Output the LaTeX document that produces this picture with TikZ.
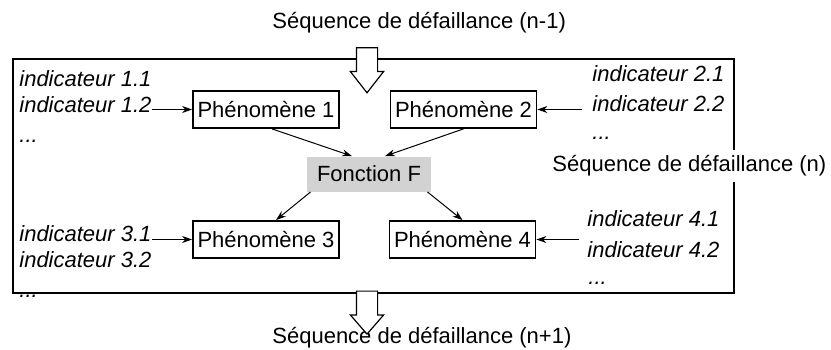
\documentclass[tikz,border=0pt]{standalone}
\usepackage{fontspec}
\setmainfont{Liberation Sans}
\usetikzlibrary{arrows.meta,positioning,shapes.arrows}
\tikzstyle{phen}=[rectangle,draw,line width=0.9pt,inner xsep=0pt,minimum width=73pt,minimum height=18.5pt,text centered]
\tikzstyle{fonction}=[rectangle,fill=gray!35,inner xsep=0pt,minimum width=62pt,minimum height=17.5pt]
\tikzstyle{indic}=[inner sep=0pt,font=\fontsize{11}{13}\selectfont\itshape]
\tikzstyle{seq}=[inner sep=0pt]
\tikzstyle{flow}=[single arrow,draw,fill=white,line width=0.6pt,shape border rotate=270,inner sep=5pt,single arrow head extend=3pt,minimum height=22.5pt,single arrow tip angle=76]
\tikzstyle{feeds}=[-{Stealth[length=5pt,width=3.5pt]},line width=0.5pt]
\begin{document}
\begin{tikzpicture}[x=0.5pt,y=-0.5pt,font=\fontsize{11}{13}\selectfont]
\useasboundingbox (0,0) rectangle (831,349);

% cadre
\draw [line width=0.8pt] (12.7,59) rectangle (734,293);

\node (sprev) [seq,anchor=west] at (272,23) {Séquence de défaillance (n-1)};
\node (scur) [seq,anchor=west,fill=white,inner ysep=3pt] at (552,166) {Séquence de défaillance (n)};
\node (snext) [seq,anchor=west] at (272,338) {Séquence de défaillance (n+1)};

\node (p1) [phen] at (266,109.5) {Phénomène 1};
\node (p2) [phen] at (463.5,109.5) {Phénomène 2};
\node (f) [fonction] at (369,174) {Fonction F};
\node (p3) [phen] at (266,239.5) {Phénomène 3};
\node (p4) [phen] at (462.5,239.5) {Phénomène 4};

\node (i11) [indic,anchor=west] at (19,79) {indicateur 1.1};
\node (i12) [indic,anchor=west] at (19,105) {indicateur 1.2};
\node (d1) [indic,anchor=base west] at (19,142) {...};
\node (i21) [indic,anchor=west] at (592,74) {indicateur 2.1};
\node (i22) [indic,anchor=west] at (592,104) {indicateur 2.2};
\node (d2) [indic,anchor=base west] at (592,139) {...};
\node (i31) [indic,anchor=west] at (19,234) {indicateur 3.1};
\node (i32) [indic,anchor=west] at (19,260) {indicateur 3.2};
\node (d3) [indic,anchor=base west] at (19,297) {...};
\node (i41) [indic,anchor=west] at (587,219) {indicateur 4.1};
\node (i42) [indic,anchor=west] at (587,250) {indicateur 4.2};
\node (d4) [indic,anchor=base west] at (588,284) {...};

\node (fin) [flow] at (367,63.5) {};
\node (fout) [flow,minimum height=21.5pt,single arrow tip angle=82] at (367,306.5) {};

\draw [feeds] (i12.east |- p1.west) -- (p1.west);
\draw [feeds,shorten <=5pt] (i22.west |- p2.east) -- (p2.east);
\draw [feeds] (i31.east |- p3.west) -- (p3.west);
\draw [feeds,shorten <=4pt] (i42.west |- p4.east) -- (p4.east);
\draw [feeds] ([xshift=3pt]p1.south) -- ([xshift=-8.5pt]f.north);
\draw [feeds] (p2.south) -- ([xshift=8pt]f.north);
\draw [feeds] ([xshift=2pt]f.south west) -- ([xshift=5pt]p3.north);
\draw [feeds] ([xshift=-2pt]f.south east) -- (p4.north);

\end{tikzpicture}
\end{document}
